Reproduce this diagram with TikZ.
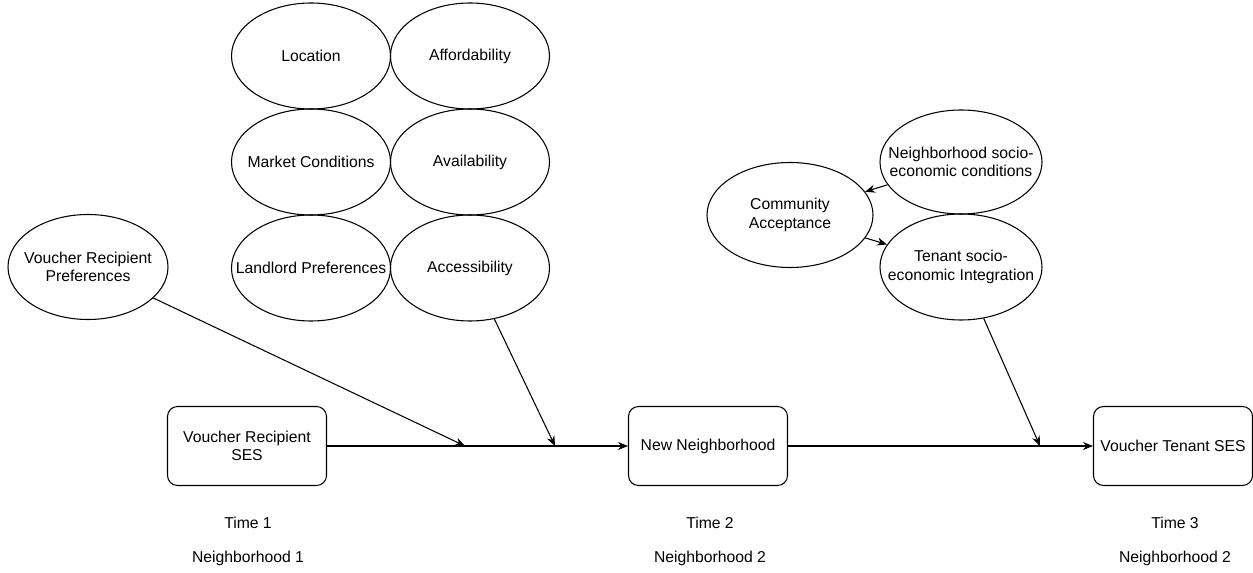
\documentclass[tikz,border=0pt]{standalone}
\usepackage{fontspec}
\setmainfont{Liberation Sans}
\usetikzlibrary{shapes.geometric,arrows.meta}

\begin{document}
\begin{tikzpicture}[x=0.75pt,y=-0.75pt,line width=0.8pt,
  font=\fontsize{11.8}{13.8}\selectfont,
  oval/.style={ellipse, draw, align=center, inner xsep=-16pt, inner ysep=0pt, minimum width=119.25pt, minimum height=79.5pt},
  box/.style={rectangle, draw, rounded corners=7.5pt, align=center, minimum width=119.25pt, minimum height=59.25pt},
  arr/.style={-{Stealth[length=7.5pt,width=6pt]}}]
\useasboundingbox (0,0) rectangle (1253,573);

% housing factors
\node[oval] (loc) at (311,56) {Location};
\node[oval] (aff) at (470,56) {Affordability};
\node[oval] (mkt) at (311,162) {Market Conditions};
\node[oval] (avl) at (470,162) {Availability};
\node[oval] (llp) at (311,268) {Landlord Preferences};
\node[oval] (acc) at (470,268) {Accessibility};

\node[oval, minimum width=120pt, minimum height=78.75pt] (vrp) at (88,267) {Voucher Recipient\\Preferences};

% community side
\node[oval, minimum width=124.5pt, minimum height=78.75pt] (comm) at (790,215) {Community\\Acceptance};
\node[oval, minimum width=121.5pt, minimum height=78pt] (nsc) at (961,162) {Neighborhood socio-\\economic conditions};
\node[oval, minimum width=121.5pt, minimum height=79.5pt] (tsi) at (961,267) {Tenant socio-\\economic Integration};

% timeline
\node[box] (ses1) at (247,446) {Voucher Recipient\\SES};
\node[box] (newn) at (708,446) {New Neighborhood};
\node[box] (ses3) at (1173,446) {Voucher Tenant SES};

\coordinate (j1) at (465,446);
\coordinate (j2) at (555,446);
\coordinate (j3) at (1040,446);

\draw[arr] (ses1) -- (newn);
\draw[arr] (newn) -- (ses3);
\draw[arr] (vrp) -- (j1);
\draw[arr] (acc) -- (j2);
\draw[arr] (tsi) -- (j3);
\draw[arr] (nsc) -- (comm);
\draw[arr] (comm) -- (tsi);

\node (t1) at (248,523) {Time 1};
\node (t2) at (710,523) {Time 2};
\node (t3) at (1175,523) {Time 3};
\node (n1) at (248,558) {Neighborhood 1};
\node (n2) at (710,558) {Neighborhood 2};
\node (n3) at (1175,558) {Neighborhood 2};
\end{tikzpicture}
\end{document}
